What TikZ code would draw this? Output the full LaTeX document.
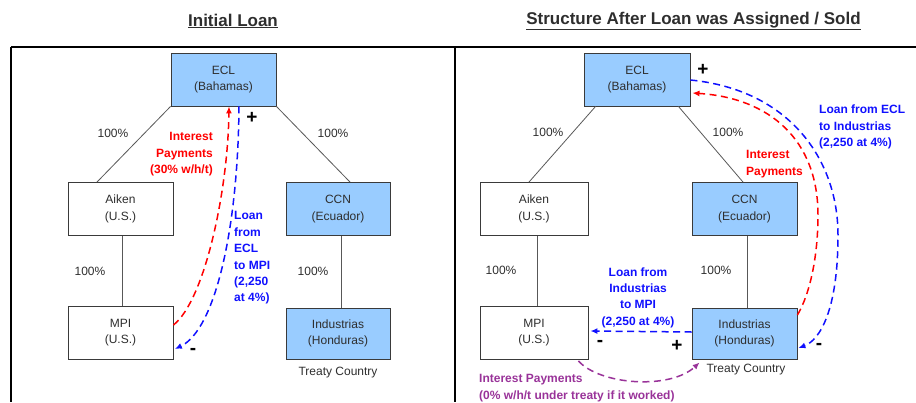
\documentclass[tikz,border=0pt]{standalone}
\usepackage{fontspec}
\setmainfont{Liberation Sans}
\usetikzlibrary{arrows.meta,calc}
\definecolor{boxfill}{HTML}{99CCFF}
\definecolor{boxline}{HTML}{3A3A3A}
\definecolor{inktext}{HTML}{2E2E2E}
\definecolor{payred}{HTML}{FF0000}
\definecolor{loanblue}{HTML}{1010FF}
\definecolor{paypurple}{HTML}{993399}
\tikzset{
  entbox/.style={draw=boxline, line width=0.9pt, fill=white, minimum width=105pt,
    minimum height=53pt, align=center, text=inktext, inner sep=2pt,
    font=\fontsize{12}{16.5}\selectfont},
  shadebox/.style={entbox, fill=boxfill},
  ownline/.style={draw=boxline!85, line width=0.8pt},
  pct/.style={text=inktext, font=\fontsize{12}{14}\selectfont, inner sep=0pt},
  flow/.style={line width=1.5pt, dash pattern=on 7pt off 4.5pt,
    -{Latex[length=7pt,width=6pt]}},
  flowlabel/.style={font=\bfseries\fontsize{12}{16.4}\selectfont, inner sep=0pt},
  sign/.style={font=\bfseries\fontsize{19}{19}\selectfont, inner sep=0pt, text=black},
  frameline/.style={line width=1.6pt, draw=black},
  heading/.style={font=\bfseries\fontsize{17}{20}\selectfont, text=inktext, inner sep=0pt}
}
\begin{document}
\begin{tikzpicture}[x=1pt,y=-1pt]
\useasboundingbox (0,0) rectangle (916,402);

% panel frame
\coordinate (fTL) at (11,47);
\coordinate (fTR) at (916,47);
\coordinate (fBL) at (11,402);
\coordinate (fMT) at (455,47);
\coordinate (fMB) at (455,402);
\draw[frameline] (fTL) -- (fTR);
\draw[frameline] (fTL) -- (fBL);
\draw[frameline] (fMT) -- (fMB);

% headings
\node[heading] (h1) at (233,21) {\underline{Initial Loan}};
\node[heading] (h2) at (693.5,21) {\underline{Structure After Loan was Assigned / Sold}};

% ---------- left: initial loan ----------
\node[shadebox] (eclA) at (223.5,79.5) {ECL\\(Bahamas)};
\node[entbox]   (aikA) at (120.5,209) {Aiken\\(U.S.)};
\node[shadebox, minimum width=104pt] (ccnA) at (338,209) {CCN\\(Ecuador)};
\node[entbox]   (mpiA) at (120.5,332.5) {MPI\\(U.S.)};
\node[shadebox, minimum width=104pt, minimum height=51pt] (indA) at (338,333.5) {Industrias\\(Honduras)};
\node[pct] (tcA) at (338,373) {Treaty Country};

\draw[ownline] (eclA.south west) -- ([xshift=-23.5pt]aikA.north);
\draw[ownline] (eclA.south east) -- ([xshift=12pt]ccnA.north);
\draw[ownline] ([xshift=1.5pt]aikA.south) -- ([xshift=1.5pt]mpiA.north);
\draw[ownline] ([xshift=3pt]ccnA.south) -- ([xshift=3pt]indA.north);

\node[pct] (pA1) at (113,133) {100\%};
\node[pct] (pA2) at (333,133) {100\%};
\node[pct] (pA3) at (90,271) {100\%};
\node[pct] (pA4) at (313,271) {100\%};

% interest back to ECL, loan out to MPI
\draw[flow, payred] ([yshift=7.5pt]mpiA.east) .. controls (205,300) and (228,190) .. ([xshift=5.5pt]eclA.south);
\draw[flow, loanblue] ([xshift=15.5pt]eclA.south) .. controls (238,230) and (215,330) .. ([xshift=1.5pt,yshift=-16.5pt]mpiA.east);

\node[flowlabel, text=payred, anchor=east, align=right] (intA) at (213,154.5)
  {Interest\\Payments\\(30\% w/h/t)};
\node[flowlabel, text=loanblue, anchor=west, align=left] (loanA) at (234,258)
  {Loan\\from\\ECL\\to MPI\\(2,250\\at 4\%)};
\node[sign] (plusA) at (252,118) {+};
\node[sign] (minusA) at (193,351) {-};

% ---------- right: after assignment ----------
\node[shadebox, minimum width=106pt] (eclB) at (637,79.5) {ECL\\(Bahamas)};
\node[entbox, minimum width=108pt]   (aikB) at (534,209) {Aiken\\(U.S.)};
\node[shadebox] (ccnB) at (744.5,209) {CCN\\(Ecuador)};
\node[entbox, minimum width=108pt]   (mpiB) at (534,332.5) {MPI\\(U.S.)};
\node[shadebox, minimum height=51pt] (indB) at (744.5,333.5) {Industrias\\(Honduras)};
\node[pct] (tcB) at (746,370) {Treaty Country};

\draw[ownline] ([xshift=12pt]eclB.south west) -- ([xshift=-5pt]aikB.north);
\draw[ownline] ([xshift=-12pt]eclB.south east) -- ([xshift=-1.5pt]ccnB.north);
\draw[ownline] ([xshift=3pt]aikB.south) -- ([xshift=3pt]mpiB.north);
\draw[ownline] ([xshift=2.5pt]ccnB.south) -- ([xshift=2.5pt]indB.north);

\node[pct] (pB1) at (548,132) {100\%};
\node[pct] (pB2) at (728,132) {100\%};
\node[pct] (pB3) at (501,270) {100\%};
\node[pct] (pB4) at (716,270) {100\%};

% loan from ECL to Industrias, interest back
\draw[flow, loanblue] ([yshift=-0.5pt]eclB.east) .. controls (790,90) and (838,160) .. (838,235)
  .. controls (838,310) and (820,340) .. ([xshift=1pt,yshift=-14.5pt]indB.east);
\draw[flow, payred] ([yshift=18.5pt]indB.east) .. controls (812,290) and (818,250) .. (818,215)
  .. controls (818,140) and (770,98) .. ([xshift=2pt,yshift=-13.5pt]eclB.east);

% loan from Industrias to MPI, interest back
\draw[flow, loanblue] ([yshift=1.5pt]indB.west) -- ([xshift=2pt,yshift=1.5pt]mpiB.east);
\draw[flow, paypurple] ([xshift=-10pt,yshift=-1.5pt]mpiB.south east) .. controls (600,385) and (670,390) .. ([xshift=8pt,yshift=-3pt]indB.south west);

\node[flowlabel, text=loanblue, anchor=west, align=left] (loanB1) at (819,127)
  {Loan from ECL\\to Industrias\\(2,250 at 4\%)};
\node[flowlabel, text=payred, anchor=west, align=left] (intB1) at (746,164)
  {Interest\\Payments};
\node[flowlabel, text=loanblue, align=center] (loanB2) at (638,297.5)
  {Loan from\\Industrias\\to MPI\\(2,250 at 4\%)};
\node[flowlabel, text=paypurple, anchor=west, align=left] (intB2) at (479,388)
  {Interest Payments\\(0\% w/h/t under treaty if it worked)};

\node[sign] (plusB1) at (703,70) {+};
\node[sign] (minusB1) at (819,346) {-};
\node[sign] (minusB2) at (600,343) {-};
\node[sign] (plusB2) at (677,346) {+};
\end{tikzpicture}
\end{document}
